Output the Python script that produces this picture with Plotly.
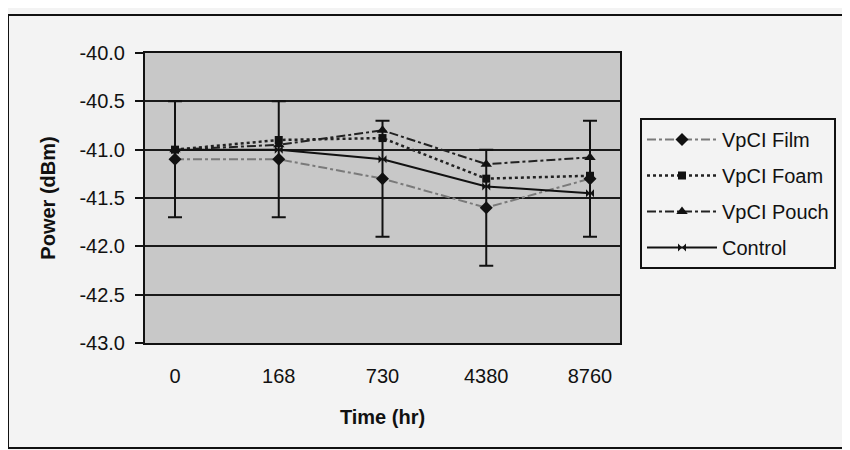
import plotly.graph_objects as go

categories = ["0", "168", "730", "4380", "8760"]
film = [-41.1, -41.1, -41.3, -41.6, -41.3]
film_err = [0.6, 0.6, 0.6, 0.6, 0.6]
foam = [-41.0, -40.9, -40.88, -41.3, -41.27]
pouch = [-41.0, -40.95, -40.8, -41.15, -41.08]
control = [-41.0, -41.0, -41.1, -41.38, -41.45]
y_ticks = [-40.0, -40.5, -41.0, -41.5, -42.0, -42.5, -43.0]

fig = go.Figure()
fig.add_trace(go.Scatter(
    x=categories, y=film, name="VpCI Film", mode="lines+markers",
    line=dict(color="#7a7a7a", width=2, dash="dashdot"),
    marker=dict(symbol="diamond", size=10, color="#111111"),
    error_y=dict(type="data", array=film_err, visible=True, color="#111111", thickness=2, width=7),
    legendgroup="a"))
fig.add_trace(go.Scatter(
    x=categories, y=foam, name="VpCI Foam", mode="lines+markers",
    line=dict(color="#222222", width=2.5, dash="dot"),
    marker=dict(symbol="square", size=8, color="#111111"),
    legendgroup="b"))
fig.add_trace(go.Scatter(
    x=categories, y=pouch, name="VpCI Pouch", mode="lines+markers",
    line=dict(color="#222222", width=2, dash="dashdot"),
    marker=dict(symbol="triangle-up", size=10, color="#111111"),
    legendgroup="c"))
fig.add_trace(go.Scatter(
    x=categories, y=control, name="Control", mode="lines+markers",
    line=dict(color="#111111", width=2),
    marker=dict(symbol="bowtie", size=8, color="#111111"),
    legendgroup="d"))

font_family = "Liberation Sans, Arial, sans-serif"
# page offset of 8px (body margin) is compensated by the margins below
fig.update_layout(
    width=842, height=442,
    margin=dict(l=137, r=230, t=45, b=107),
    paper_bgcolor="#f3f3f3",
    plot_bgcolor="#c8c8c8",
    font=dict(family=font_family, size=20, color="#111111"),
    showlegend=True,
    legend=dict(
        x=(640 - 145) / 475, y=(343 - 118) / 290, xanchor="left", yanchor="top",
        bgcolor="#f3f3f3", bordercolor="#111111", borderwidth=2,
        font=dict(size=20, color="#111111"),
        tracegroupgap=7, traceorder="grouped", itemwidth=70,
    ),
    xaxis=dict(
        type="category", categoryorder="array", categoryarray=categories,
        showline=True, linecolor="#111111", linewidth=2, mirror=True,
        showgrid=False, ticks="", tickfont=dict(size=20),
        ticklabelstandoff=14,
        title=dict(text="<b>Time (hr)</b>", font=dict(size=20), standoff=24),
    ),
    yaxis=dict(
        range=[-43.0, -40.0], tickvals=y_ticks,
        ticktext=[f"{v:.1f}" for v in y_ticks],
        showline=True, linecolor="#111111", linewidth=2, mirror=True,
        showgrid=True, gridcolor="#1a1a1a", gridwidth=2,
        ticks="outside", ticklen=8, tickwidth=2, tickcolor="#111111",
        tickfont=dict(size=20), zeroline=False, ticklabelstandoff=6,
        title=dict(text="<b>Power (dBm)</b>", font=dict(size=20), standoff=18),
    ),
    shapes=[dict(type="rect", xref="paper", yref="paper",
                 x0=(8 - 145) / 475, x1=(849 - 145) / 475,
                 y0=(343 - 448) / 290, y1=(343 - 15) / 290,
                 line=dict(color="#111111", width=2), fillcolor="rgba(0,0,0,0)",
                 layer="below")],
)

fig.write_html("out.html")
